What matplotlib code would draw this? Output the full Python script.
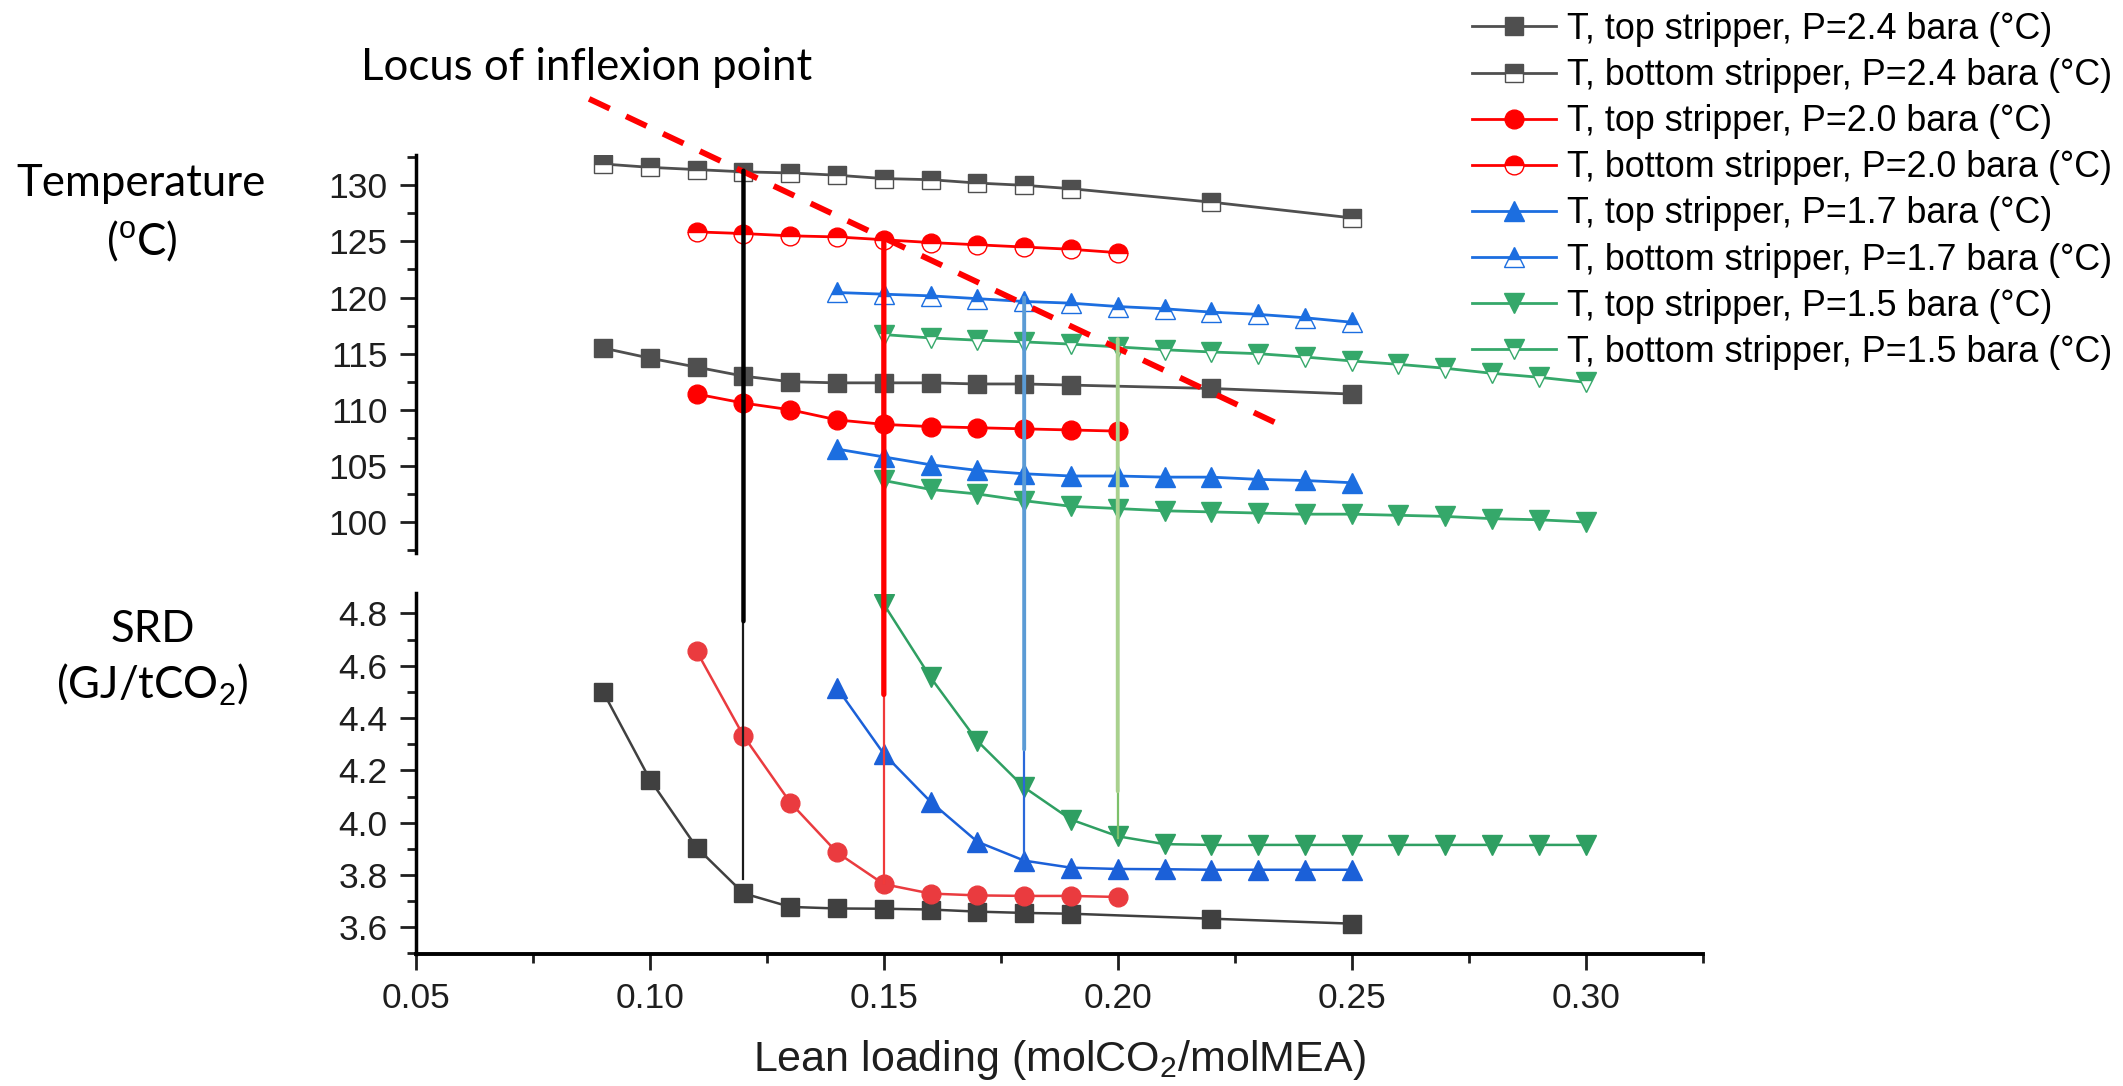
import matplotlib
matplotlib.use('Agg')
import matplotlib.pyplot as plt
from matplotlib.patches import ConnectionPatch
from matplotlib.ticker import MultipleLocator, FormatStrFormatter

plt.rcParams['font.family'] = ['Liberation Sans', 'DejaVu Sans']
plt.rcParams['mathtext.fontset'] = 'custom'
plt.rcParams['mathtext.rm'] = 'Liberation Sans'
plt.rcParams['mathtext.it'] = 'Liberation Sans:italic'

# ---------------- data ----------------
x_24 = [0.09, 0.10, 0.11, 0.12, 0.13, 0.14, 0.15, 0.16, 0.17, 0.18, 0.19, 0.22, 0.25]
T_top_24 = [115.5, 114.6, 113.8, 113.0, 112.5, 112.4, 112.4, 112.4, 112.3, 112.3, 112.2, 111.9, 111.4]
T_bot_24 = [131.9, 131.6, 131.4, 131.2, 131.1, 130.9, 130.6, 130.5, 130.2, 130.0, 129.7, 128.5, 127.1]
SRD_24 = [4.50, 4.165, 3.905, 3.73, 3.678, 3.672, 3.671, 3.668, 3.66, 3.655, 3.652, 3.633, 3.614]

x_20 = [0.11, 0.12, 0.13, 0.14, 0.15, 0.16, 0.17, 0.18, 0.19, 0.20]
T_top_20 = [111.4, 110.6, 110.0, 109.1, 108.7, 108.5, 108.4, 108.3, 108.2, 108.1]
T_bot_20 = [125.85, 125.7, 125.5, 125.4, 125.15, 124.9, 124.7, 124.5, 124.3, 124.0]
SRD_20 = [4.655, 4.332, 4.077, 3.886, 3.765, 3.729, 3.722, 3.72, 3.72, 3.716]

x_17 = [0.14, 0.15, 0.16, 0.17, 0.18, 0.19, 0.20, 0.21, 0.22, 0.23, 0.24, 0.25]
T_top_17 = [106.5, 105.8, 105.1, 104.6, 104.3, 104.1, 104.1, 104.0, 104.0, 103.8, 103.7, 103.5]
T_bot_17 = [120.45, 120.3, 120.15, 119.9, 119.65, 119.5, 119.2, 119.0, 118.7, 118.5, 118.2, 117.8]
SRD_17 = [4.515, 4.263, 4.08, 3.927, 3.855, 3.828, 3.823, 3.822, 3.82, 3.82, 3.82, 3.82]

x_15 = [0.15, 0.16, 0.17, 0.18, 0.19, 0.20, 0.21, 0.22, 0.23, 0.24, 0.25, 0.26, 0.27, 0.28, 0.29, 0.30]
T_top_15 = [103.7, 102.9, 102.5, 101.9, 101.4, 101.2, 101.0, 100.9, 100.8, 100.7, 100.7, 100.6, 100.5, 100.3, 100.2, 100.0]
T_bot_15 = [116.7, 116.4, 116.2, 116.05, 115.85, 115.6, 115.35, 115.15, 115.0, 114.7, 114.35, 114.05, 113.7, 113.25, 112.9, 112.45]
SRD_15 = [4.835, 4.555, 4.312, 4.135, 4.012, 3.948, 3.918, 3.915, 3.915, 3.915, 3.915, 3.915, 3.915, 3.915, 3.915, 3.915]

labels = ['T, top stripper, P=2.4 bara (\u00b0C)', 'T, bottom stripper, P=2.4 bara (\u00b0C)',
          'T, top stripper, P=2.0 bara (\u00b0C)', 'T, bottom stripper, P=2.0 bara (\u00b0C)',
          'T, top stripper, P=1.7 bara (\u00b0C)', 'T, bottom stripper, P=1.7 bara (\u00b0C)',
          'T, top stripper, P=1.5 bara (\u00b0C)', 'T, bottom stripper, P=1.5 bara (\u00b0C)']

# inflexion markers (lean loading, T where line starts, SRD where thick part ends, SRD end)
inflex_x = [0.12, 0.15, 0.18, 0.20]
inflex_T = [131.3, 125.4, 120.0, 116.3]
inflex_SRD_mid = [4.77, 4.49, 4.28, 4.12]
inflex_SRD_end = [3.785, 3.77, 3.86, 3.94]
locus_x = [0.087, 0.236]
locus_T = [137.7, 108.4]

T_ticks = [100, 105, 110, 115, 120, 125, 130]
SRD_ticks = [3.6, 3.8, 4.0, 4.2, 4.4, 4.6, 4.8]
x_ticks = [0.05, 0.10, 0.15, 0.20, 0.25, 0.30]

# ---------------- styles ----------------
c_gray, c_red, c_blue, c_green = '#4f4f4f', '#ff0000', '#1c6ee0', '#35a86a'
s_gray, s_red, s_blue, s_green = '#404040', '#ea3b3f', '#1b60d8', '#2f9f62'
v_thick = ['#000000', '#ff0000', '#5b9bd5', '#a9d18e']
v_thin = ['#1a1a1a', '#f03a3a', '#2a68da', '#7cc06a']
v_lw = [3.2, 3.8, 2.8, 2.8]

W, H = 2123, 1086
fig = plt.figure(figsize=(W / 100, H / 100), dpi=100)
L, R = 416 / W, 1703 / W
ax1 = fig.add_axes([L, 1 - 553 / H, R - L, (553 - 155) / H])
ax2 = fig.add_axes([L, 1 - 954 / H, R - L, (954 - 593.5) / H])

series = [
    (x_24, T_top_24, T_bot_24, SRD_24, c_gray, s_gray, 's', 12.5),
    (x_20, T_top_20, T_bot_20, SRD_20, c_red, s_red, 'o', 13.5),
    (x_17, T_top_17, T_bot_17, SRD_17, c_blue, s_blue, '^', 14.5),
    (x_15, T_top_15, T_bot_15, SRD_15, c_green, s_green, 'v', 14.5),
]
handles = []
for xs, tt, tb, srd, c, sc, m, ms in series:
    h1, = ax1.plot(xs, tt, color=c, lw=2.0, marker=m, ms=ms, mfc=c, mec=c, mew=1)
    h2, = ax1.plot(xs, tb, color=c, lw=2.0, marker=m, ms=ms, mfc=c, mec=c, mew=1,
                   fillstyle='top', markerfacecoloralt='white')
    ax2.plot(xs, srd, color=sc, lw=1.8, marker=m, ms=ms, mfc=sc, mec=sc, mew=1)
    handles += [h1, h2]

ax1.set_xlim(0.05, 0.3251)
ax2.set_xlim(0.05, 0.3251)
ax1.set_ylim(97.24, 132.7)
ax2.set_ylim(3.498, 4.876)

# axes styling
for ax in (ax1, ax2):
    for sp in ('top', 'right'):
        ax.spines[sp].set_visible(False)
    ax.spines['left'].set_linewidth(2.5)
    ax.patch.set_alpha(0)
ax1.spines['bottom'].set_visible(False)
ax2.spines['bottom'].set_linewidth(2.8)
ax1.tick_params(axis='x', bottom=False, labelbottom=False, which='both')

ax1.set_yticks(T_ticks)
ax1.yaxis.set_minor_locator(MultipleLocator(2.5))
ax2.set_yticks(SRD_ticks)
ax2.yaxis.set_major_formatter(FormatStrFormatter('%.1f'))
ax2.yaxis.set_minor_locator(MultipleLocator(0.1))
ax2.set_xticks(x_ticks)
ax2.xaxis.set_major_formatter(FormatStrFormatter('%.2f'))
ax2.xaxis.set_minor_locator(MultipleLocator(0.025))

for ax in (ax1, ax2):
    ax.tick_params(axis='both', which='major', direction='out', length=11.5, width=2.0,
                   labelsize=25.5, pad=9, colors='#1e1e1e')
    ax.tick_params(axis='both', which='minor', direction='out', length=6.5, width=2.0,
                   colors='#1e1e1e')

ax2.set_xlabel('Lean loading (molCO$_2$/molMEA)', fontsize=31, color='#1e1e1e', labelpad=16)

# inflexion vertical lines
for i, xv in enumerate(inflex_x):
    con = ConnectionPatch(xyA=(xv, inflex_T[i]), coordsA=ax1.transData,
                          xyB=(xv, inflex_SRD_mid[i]), coordsB=ax2.transData,
                          color=v_thick[i], lw=v_lw[i], zorder=5)
    fig.add_artist(con)
    ax2.plot([xv, xv], [inflex_SRD_mid[i], inflex_SRD_end[i]], color=v_thin[i], lw=1.6, zorder=5)

# locus dashed line
ax1.plot(locus_x, locus_T, color='#ff0000', lw=4.2, ls=(0, (3.9, 3.1)), clip_on=False, zorder=10)

# labels in Calibri-like font
lab_font = ['Lato', 'DejaVu Sans']
fig.text(361 / W, 1 - 80 / H, 'Locus of inflexion point', family=lab_font, fontsize=31.5, ha='left', va='baseline')
fig.text(141 / W, 1 - 196 / H, 'Temperature', family=lab_font, fontsize=31.5, ha='center', va='baseline')
fig.text(142 / W, 1 - 255 / H, '($^{\\mathrm{o}}$C)', family=lab_font, fontsize=31.5, ha='center', va='baseline')
fig.text(153 / W, 1 - 642 / H, 'SRD', family=lab_font, fontsize=31.5, ha='center', va='baseline')
fig.text(152 / W, 1 - 699 / H, '(GJ/tCO$_2$)', family=lab_font, fontsize=31.5, ha='center', va='baseline')

fig.legend(handles, labels, loc='upper left', bbox_to_anchor=(1472 / W, 1 - 12 / H),
           frameon=False, fontsize=25.8, handlelength=2.35, handletextpad=0.3,
           labelspacing=0.31, borderpad=0, borderaxespad=0, numpoints=1)

fig.savefig('out.png', dpi=100)
